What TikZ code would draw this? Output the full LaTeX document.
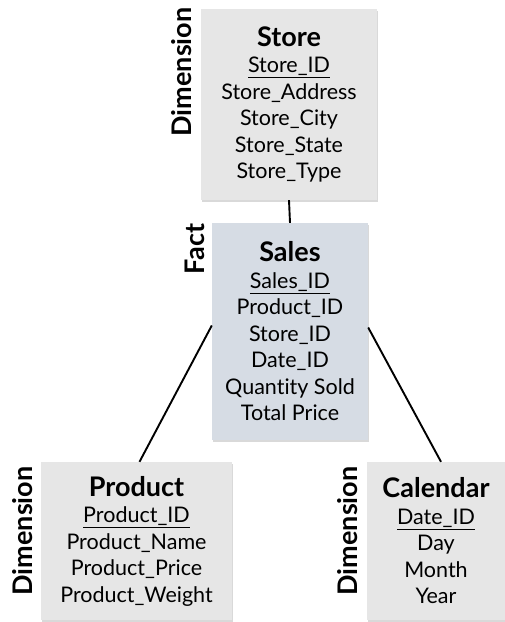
\documentclass[tikz,border=0pt]{standalone}
\usepackage{fontspec}
\setmainfont{Lato}[Ligatures=NoCommon]
\usetikzlibrary{calc,shadows}
\definecolor{dimfill}{HTML}{E6E6E6}
\definecolor{factfill}{HTML}{D6DCE4}
\newcommand{\ttl}[1]{{\fontsize{27}{31}\selectfont\bfseries #1}}
\begin{document}
\begin{tikzpicture}[x=1pt,y=-1pt,
  tbox/.style={inner sep=0pt, align=center, font=\fontsize{21.5}{26.5}\selectfont,
     drop shadow={shadow xshift=1pt,shadow yshift=-1.5pt,fill=black!25,opacity=0.6}},
  dimbox/.style={tbox, fill=dimfill},
  factbox/.style={tbox, fill=factfill},
  role/.style={rotate=90, inner sep=0pt, font=\fontsize{27}{30}\selectfont\bfseries},
  link/.style={draw=black, line width=1.9pt}
]
\useasboundingbox (0,0) rectangle (505,622);

\node[dimbox, minimum width=176pt, minimum height=191pt] (store) at (289,104.5)
  {\ttl{Store}\\\underline{Store\_ID}\\Store\_Address\\Store\_City\\Store\_State\\Store\_Type};
\node[factbox, minimum width=156pt, minimum height=217pt] (sales) at (290,331.5)
  {\ttl{Sales}\\\underline{Sales\_ID}\\Product\_ID\\Store\_ID\\Date\_ID\\Quantity Sold\\Total Price};
\node[dimbox, minimum width=191pt, minimum height=158pt] (product) at (136.5,541)
  {\ttl{Product}\\\underline{Product\_ID}\\Product\_Name\\Product\_Price\\Product\_Weight};
\node[dimbox, minimum width=138pt, minimum height=158pt] (calendar) at (436,541)
  {\ttl{Calendar}\\\underline{Date\_ID}\\Day\\Month\\Year};

\node[role] (rstore) at (182,72) {Dimension};
\node[role] (rsales) at (195,249) {Fact};
\node[role] (rproduct) at (23,531) {Dimension};
\node[role] (rcalendar) at (348,531) {Dimension};

\coordinate (sl) at ($(sales.west)+(0,-6)$);
\coordinate (sr) at ($(sales.east)+(0,-4)$);
\coordinate (pt) at ($(product.north)+(3,0)$);
\coordinate (ct) at ($(calendar.north)+(5,0)$);
\draw[link] (store.south) -- (sales.north);
\draw[link] (sl) -- (pt);
\draw[link] (sr) -- (ct);
\end{tikzpicture}
\end{document}
